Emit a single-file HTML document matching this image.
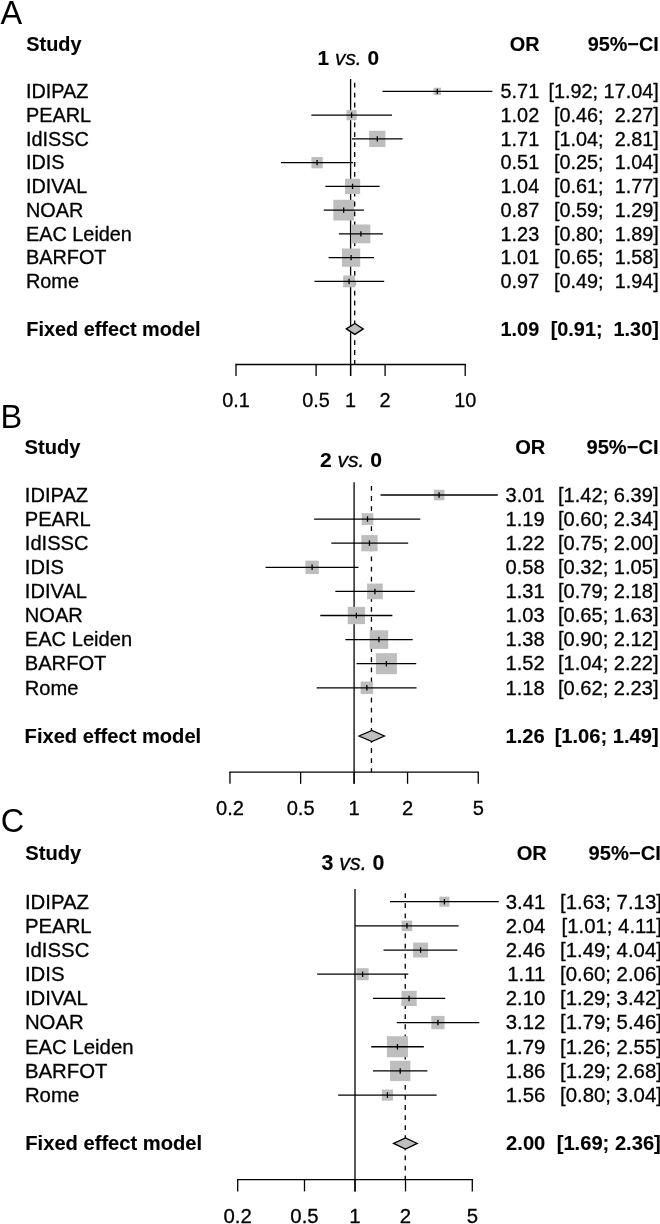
<!DOCTYPE html>
<html lang="en">
<head>
<meta charset="utf-8">
<title>Forest plots</title>
<style>
html,body{margin:0;padding:0;background:#fff;}
body{width:660px;height:1224px;overflow:hidden;}
svg{display:block;will-change:transform;}
text{font-family:"Liberation Sans",sans-serif;fill:#000;white-space:pre;stroke:#000;stroke-width:0.3px;stroke-linejoin:round;}
.b{font-weight:bold;stroke-width:0.12px;}
.pC .b{font-size:0.99em;}
.pl{font-size:32.5px;stroke:none;}
.t{font-size:1.05em;}
.tb{font-weight:bold;stroke-width:0.12px;}
.ti{font-style:italic;}
.k{stroke:#000;stroke-width:1.3;}
line.k{fill:none;}
</style>
</head>
<body>
<svg width="660" height="1224" viewBox="0 0 660 1224">
<rect width="660" height="1224" fill="#fff"/>
<g class="pA" style="font-size:19.85px">
<text class="pl" x="0.6" y="24.0">A</text>
<text class="b" x="26.3" y="50.60">Study</text>
<text class="b" text-anchor="end" x="539.6" y="50.60">OR</text>
<text class="b" text-anchor="end" x="658.8" y="50.60">95%−CI</text>
<text class="t" text-anchor="middle" x="348.3" y="65.0"><tspan class="tb">1</tspan> <tspan class="ti">vs.</tspan> <tspan class="tb">0</tspan></text>
<line class="k" x1="350.6" x2="350.6" y1="78.90" y2="376.00"/>
<line class="k" stroke-dasharray="4.8 5.10" x1="354.70" x2="354.70" y1="82.80" y2="364.50"/>
<text x="26.0" y="98.10">IDIPAZ</text>
<text text-anchor="end" x="539.2" y="98.10">5.71</text>
<text text-anchor="end" x="658.8" y="98.10">[1.92; 17.04]</text>
<rect fill="#bebebe" x="433.60" y="87.69" width="7.42" height="7.42"/>
<line class="k" x1="382.47" x2="492.33" y1="91.40" y2="91.40"/>
<line class="k" x1="437.31" x2="437.31" y1="88.70" y2="94.10"/>
<text x="26.0" y="121.85">PEARL</text>
<text text-anchor="end" x="539.2" y="121.85">1.02</text>
<text text-anchor="end" x="658.8" y="121.85">[0.46;  2.27]</text>
<rect fill="#bebebe" x="346.51" y="110.08" width="10.14" height="10.14"/>
<line class="k" x1="311.35" x2="392.00" y1="115.15" y2="115.15"/>
<line class="k" x1="351.59" x2="351.59" y1="112.45" y2="117.85"/>
<text x="26.0" y="145.60">IdISSC</text>
<text text-anchor="end" x="539.2" y="145.60">1.71</text>
<text text-anchor="end" x="658.8" y="145.60">[1.04;  2.81]</text>
<rect fill="#bebebe" x="369.16" y="130.75" width="16.29" height="16.29"/>
<line class="k" x1="351.95" x2="402.62" y1="138.90" y2="138.90"/>
<line class="k" x1="377.30" x2="377.30" y1="136.20" y2="141.60"/>
<text x="26.0" y="169.35">IDIS</text>
<text text-anchor="end" x="539.2" y="169.35">0.51</text>
<text text-anchor="end" x="658.8" y="169.35">[0.25;  1.04]</text>
<rect fill="#bebebe" x="311.41" y="156.97" width="11.36" height="11.36"/>
<line class="k" x1="281.00" x2="353.15" y1="162.65" y2="162.65"/>
<line class="k" x1="317.09" x2="317.09" y1="159.95" y2="165.35"/>
<text x="26.0" y="193.10">IDIVAL</text>
<text text-anchor="end" x="539.2" y="193.10">1.04</text>
<text text-anchor="end" x="658.8" y="193.10">[0.61;  1.77]</text>
<rect fill="#bebebe" x="344.95" y="178.80" width="15.20" height="15.20"/>
<line class="k" x1="325.40" x2="379.62" y1="186.40" y2="186.40"/>
<line class="k" x1="352.55" x2="352.55" y1="183.70" y2="189.10"/>
<text x="26.0" y="216.85">NOAR</text>
<text text-anchor="end" x="539.2" y="216.85">0.87</text>
<text text-anchor="end" x="658.8" y="216.85">[0.59;  1.29]</text>
<rect fill="#bebebe" x="333.32" y="199.80" width="20.70" height="20.70"/>
<line class="k" x1="323.74" x2="363.87" y1="210.15" y2="210.15"/>
<line class="k" x1="343.67" x2="343.67" y1="207.45" y2="212.85"/>
<text x="26.0" y="240.60">EAC Leiden</text>
<text text-anchor="end" x="539.2" y="240.60">1.23</text>
<text text-anchor="end" x="658.8" y="240.60">[0.80;  1.89]</text>
<rect fill="#bebebe" x="351.49" y="224.48" width="18.84" height="18.84"/>
<line class="k" x1="338.89" x2="382.88" y1="233.90" y2="233.90"/>
<line class="k" x1="360.90" x2="360.90" y1="231.20" y2="236.60"/>
<text x="26.0" y="264.35">BARFOT</text>
<text text-anchor="end" x="539.2" y="264.35">1.01</text>
<text text-anchor="end" x="658.8" y="264.35">[0.65;  1.58]</text>
<rect fill="#bebebe" x="341.98" y="248.53" width="18.23" height="18.23"/>
<line class="k" x1="328.56" x2="373.97" y1="257.65" y2="257.65"/>
<line class="k" x1="351.10" x2="351.10" y1="254.95" y2="260.35"/>
<text x="26.0" y="288.10">Rome</text>
<text text-anchor="end" x="539.2" y="288.10">0.97</text>
<text text-anchor="end" x="658.8" y="288.10">[0.49;  1.94]</text>
<rect fill="#bebebe" x="343.20" y="275.52" width="11.77" height="11.77"/>
<line class="k" x1="314.50" x2="384.18" y1="281.40" y2="281.40"/>
<line class="k" x1="349.08" x2="349.08" y1="278.70" y2="284.10"/>
<text class="b" x="26.3" y="335.60">Fixed effect model</text>
<text class="b" text-anchor="end" x="539.2" y="335.60">1.09</text>
<text class="b" text-anchor="end" x="658.8" y="335.60">[0.91;  1.30]</text>
<polygon class="k" fill="#bebebe" stroke-linejoin="miter" points="346.31,328.90 354.89,323.40 363.26,328.90 354.89,334.40"/>
<line class="k" x1="235.35" x2="465.85" y1="364.50" y2="364.50"/>
<line class="k" x1="236.00" x2="236.00" y1="364.50" y2="376.00"/>
<text text-anchor="middle" x="236.00" y="407.00">0.1</text>
<line class="k" x1="316.10" x2="316.10" y1="364.50" y2="376.00"/>
<text text-anchor="middle" x="316.10" y="407.00">0.5</text>
<line class="k" x1="350.60" x2="350.60" y1="364.50" y2="376.00"/>
<text text-anchor="middle" x="350.60" y="407.00">1</text>
<line class="k" x1="385.10" x2="385.10" y1="364.50" y2="376.00"/>
<text text-anchor="middle" x="385.10" y="407.00">2</text>
<line class="k" x1="465.20" x2="465.20" y1="364.50" y2="376.00"/>
<text text-anchor="middle" x="465.20" y="407.00">10</text>
</g>
<g class="pB" style="font-size:20.12px">
<text class="pl" x="0.5" y="427.6">B</text>
<text class="b" x="24.6" y="453.60">Study</text>
<text class="b" text-anchor="end" x="545.4" y="453.60">OR</text>
<text class="b" text-anchor="end" x="658.6" y="453.60">95%−CI</text>
<text class="t" text-anchor="middle" x="351.0" y="466.7"><tspan class="tb">2</tspan> <tspan class="ti">vs.</tspan> <tspan class="tb">0</tspan></text>
<line class="k" x1="354.1" x2="354.1" y1="482.32" y2="783.79"/>
<line class="k" stroke-dasharray="4.8 5.28" x1="371.45" x2="371.45" y1="486.00" y2="772.12"/>
<text x="24.8" y="501.80">IDIPAZ</text>
<text text-anchor="end" x="544.6" y="501.80">3.01</text>
<text text-anchor="end" x="658.6" y="501.80">[1.42; 6.39]</text>
<rect fill="#bebebe" x="433.80" y="489.71" width="10.59" height="10.59"/>
<line class="k" x1="380.55" x2="497.76" y1="495.00" y2="495.00"/>
<line class="k" x1="439.09" x2="439.09" y1="492.26" y2="497.74"/>
<text x="24.8" y="525.90">PEARL</text>
<text text-anchor="end" x="544.6" y="525.90">1.19</text>
<text text-anchor="end" x="658.6" y="525.90">[0.60; 2.34]</text>
<rect fill="#bebebe" x="361.67" y="513.25" width="11.70" height="11.70"/>
<line class="k" x1="314.10" x2="420.27" y1="519.10" y2="519.10"/>
<line class="k" x1="367.52" x2="367.52" y1="516.36" y2="521.84"/>
<text x="24.8" y="550.00">IdISSC</text>
<text text-anchor="end" x="544.6" y="550.00">1.22</text>
<text text-anchor="end" x="658.6" y="550.00">[0.75; 2.00]</text>
<rect fill="#bebebe" x="361.32" y="535.08" width="16.24" height="16.24"/>
<line class="k" x1="331.31" x2="408.16" y1="543.20" y2="543.20"/>
<line class="k" x1="369.44" x2="369.44" y1="540.46" y2="545.94"/>
<text x="24.8" y="574.10">IDIS</text>
<text text-anchor="end" x="544.6" y="574.10">0.58</text>
<text text-anchor="end" x="658.6" y="574.10">[0.32; 1.05]</text>
<rect fill="#bebebe" x="305.38" y="560.60" width="13.40" height="13.40"/>
<line class="k" x1="265.61" x2="358.46" y1="567.30" y2="567.30"/>
<line class="k" x1="312.08" x2="312.08" y1="564.56" y2="570.04"/>
<text x="24.8" y="598.20">IDIVAL</text>
<text text-anchor="end" x="544.6" y="598.20">1.31</text>
<text text-anchor="end" x="658.6" y="598.20">[0.79; 2.18]</text>
<rect fill="#bebebe" x="367.08" y="583.55" width="15.69" height="15.69"/>
<line class="k" x1="335.32" x2="414.81" y1="591.40" y2="591.40"/>
<line class="k" x1="374.93" x2="374.93" y1="588.66" y2="594.14"/>
<text x="24.8" y="622.30">NOAR</text>
<text text-anchor="end" x="544.6" y="622.30">1.03</text>
<text text-anchor="end" x="658.6" y="622.30">[0.65; 1.63]</text>
<rect fill="#bebebe" x="347.72" y="606.84" width="17.32" height="17.32"/>
<line class="k" x1="320.27" x2="392.38" y1="615.50" y2="615.50"/>
<line class="k" x1="356.38" x2="356.38" y1="612.76" y2="618.24"/>
<text x="24.8" y="646.39">EAC Leiden</text>
<text text-anchor="end" x="544.6" y="646.39">1.38</text>
<text text-anchor="end" x="658.6" y="646.39">[0.90; 2.12]</text>
<rect fill="#bebebe" x="369.65" y="630.30" width="18.59" height="18.59"/>
<line class="k" x1="345.37" x2="412.66" y1="639.60" y2="639.60"/>
<line class="k" x1="378.94" x2="378.94" y1="636.86" y2="642.34"/>
<text x="24.8" y="670.49">BARFOT</text>
<text text-anchor="end" x="544.6" y="670.49">1.52</text>
<text text-anchor="end" x="658.6" y="670.49">[1.04; 2.22]</text>
<rect fill="#bebebe" x="375.89" y="653.19" width="21.00" height="21.00"/>
<line class="k" x1="356.53" x2="416.21" y1="663.70" y2="663.70"/>
<line class="k" x1="386.40" x2="386.40" y1="660.96" y2="666.44"/>
<text x="24.8" y="694.59">Rome</text>
<text text-anchor="end" x="544.6" y="694.59">1.18</text>
<text text-anchor="end" x="658.6" y="694.59">[0.62; 2.23]</text>
<rect fill="#bebebe" x="360.64" y="681.57" width="12.44" height="12.44"/>
<line class="k" x1="316.63" x2="416.56" y1="687.79" y2="687.79"/>
<line class="k" x1="366.87" x2="366.87" y1="685.05" y2="690.53"/>
<text class="b" x="24.6" y="742.79">Fixed effect model</text>
<text class="b" text-anchor="end" x="544.6" y="742.79">1.26</text>
<text class="b" text-anchor="end" x="658.6" y="742.79">[1.06; 1.49]</text>
<polygon class="k" fill="#bebebe" stroke-linejoin="miter" points="358.99,735.99 371.93,730.41 384.46,735.99 371.93,741.57"/>
<line class="k" x1="229.31" x2="478.89" y1="772.12" y2="772.12"/>
<line class="k" x1="229.96" x2="229.96" y1="772.12" y2="783.79"/>
<text text-anchor="middle" x="229.96" y="815.24">0.2</text>
<line class="k" x1="300.64" x2="300.64" y1="772.12" y2="783.79"/>
<text text-anchor="middle" x="300.64" y="815.24">0.5</text>
<line class="k" x1="354.10" x2="354.10" y1="772.12" y2="783.79"/>
<text text-anchor="middle" x="354.10" y="815.24">1</text>
<line class="k" x1="407.56" x2="407.56" y1="772.12" y2="783.79"/>
<text text-anchor="middle" x="407.56" y="815.24">2</text>
<line class="k" x1="478.24" x2="478.24" y1="772.12" y2="783.79"/>
<text text-anchor="middle" x="478.24" y="815.24">5</text>
</g>
<g class="pC" style="font-size:20.36px">
<text class="pl" x="0.8" y="831.8">C</text>
<text class="b" x="25.3" y="860.14">Study</text>
<text class="b" text-anchor="end" x="546.9" y="860.14">OR</text>
<text class="b" text-anchor="end" x="660.8" y="860.14">95%−CI</text>
<text class="t" text-anchor="middle" x="353.0" y="870.2"><tspan class="tb">3</tspan> <tspan class="ti">vs.</tspan> <tspan class="tb">0</tspan></text>
<line class="k" x1="355.0" x2="355.0" y1="888.95" y2="1191.40"/>
<line class="k" stroke-dasharray="4.8 5.29" x1="405.25" x2="405.25" y1="893.20" y2="1179.70"/>
<text x="24.9" y="908.50">IDIPAZ</text>
<text text-anchor="end" x="545.3" y="908.50">3.41</text>
<text text-anchor="end" x="661.9" y="908.50">[1.63; 7.13]</text>
<rect fill="#bebebe" x="439.36" y="896.65" width="10.07" height="10.07"/>
<line class="k" x1="390.01" x2="498.75" y1="901.68" y2="901.68"/>
<line class="k" x1="444.40" x2="444.40" y1="898.93" y2="904.43"/>
<text x="24.9" y="932.68">PEARL</text>
<text text-anchor="end" x="545.3" y="932.68">2.04</text>
<text text-anchor="end" x="661.9" y="932.68">[1.01; 4.11]</text>
<rect fill="#bebebe" x="401.66" y="920.56" width="10.59" height="10.59"/>
<line class="k" x1="355.13" x2="458.60" y1="925.86" y2="925.86"/>
<line class="k" x1="406.96" x2="406.96" y1="923.11" y2="928.61"/>
<text x="24.9" y="956.86">IdISSC</text>
<text text-anchor="end" x="545.3" y="956.86">2.46</text>
<text text-anchor="end" x="661.9" y="956.86">[1.49; 4.04]</text>
<rect fill="#bebebe" x="413.15" y="942.59" width="14.89" height="14.89"/>
<line class="k" x1="383.46" x2="457.35" y1="950.03" y2="950.03"/>
<line class="k" x1="420.60" x2="420.60" y1="947.29" y2="952.78"/>
<text x="24.9" y="981.03">IDIS</text>
<text text-anchor="end" x="545.3" y="981.03">1.11</text>
<text text-anchor="end" x="661.9" y="981.03">[0.60; 2.06]</text>
<rect fill="#bebebe" x="356.58" y="968.19" width="12.04" height="12.04"/>
<line class="k" x1="317.17" x2="408.27" y1="974.21" y2="974.21"/>
<line class="k" x1="362.61" x2="362.61" y1="971.46" y2="976.96"/>
<text x="24.9" y="1005.21">IDIVAL</text>
<text text-anchor="end" x="545.3" y="1005.21">2.10</text>
<text text-anchor="end" x="661.9" y="1005.21">[1.29; 3.42]</text>
<rect fill="#bebebe" x="401.45" y="990.77" width="15.24" height="15.24"/>
<line class="k" x1="372.96" x2="445.21" y1="998.39" y2="998.39"/>
<line class="k" x1="409.07" x2="409.07" y1="995.64" y2="1001.14"/>
<text x="24.9" y="1029.39">NOAR</text>
<text text-anchor="end" x="545.3" y="1029.39">3.12</text>
<text text-anchor="end" x="661.9" y="1029.39">[1.79; 5.46]</text>
<rect fill="#bebebe" x="431.26" y="1015.91" width="13.32" height="13.32"/>
<line class="k" x1="396.83" x2="479.30" y1="1022.57" y2="1022.57"/>
<line class="k" x1="437.92" x2="437.92" y1="1019.82" y2="1025.32"/>
<text x="24.9" y="1053.57">EAC Leiden</text>
<text text-anchor="end" x="545.3" y="1053.57">1.79</text>
<text text-anchor="end" x="661.9" y="1053.57">[1.26; 2.55]</text>
<rect fill="#bebebe" x="386.89" y="1036.21" width="21.07" height="21.07"/>
<line class="k" x1="371.24" x2="423.82" y1="1046.74" y2="1046.74"/>
<line class="k" x1="397.43" x2="397.43" y1="1044.00" y2="1049.49"/>
<text x="24.9" y="1077.74">BARFOT</text>
<text text-anchor="end" x="545.3" y="1077.74">1.86</text>
<text text-anchor="end" x="661.9" y="1077.74">[1.29; 2.68]</text>
<rect fill="#bebebe" x="390.07" y="1060.76" width="20.32" height="20.32"/>
<line class="k" x1="372.96" x2="427.44" y1="1070.92" y2="1070.92"/>
<line class="k" x1="400.22" x2="400.22" y1="1068.17" y2="1073.67"/>
<text x="24.9" y="1101.92">Rome</text>
<text text-anchor="end" x="545.3" y="1101.92">1.56</text>
<text text-anchor="end" x="661.9" y="1101.92">[0.80; 3.04]</text>
<rect fill="#bebebe" x="381.84" y="1089.54" width="11.13" height="11.13"/>
<line class="k" x1="338.14" x2="436.63" y1="1095.10" y2="1095.10"/>
<line class="k" x1="387.41" x2="387.41" y1="1092.35" y2="1097.85"/>
<text class="b" x="25.3" y="1150.28">Fixed effect model</text>
<text class="b" text-anchor="end" x="545.3" y="1150.28">2.00</text>
<text class="b" text-anchor="end" x="660.8" y="1150.28">[1.69; 2.36]</text>
<polygon class="k" fill="#bebebe" stroke-linejoin="miter" points="393.64,1143.45 405.51,1137.86 417.17,1143.45 405.51,1149.05"/>
<line class="k" x1="237.06" x2="472.94" y1="1179.70" y2="1179.70"/>
<line class="k" x1="237.71" x2="237.71" y1="1179.70" y2="1191.40"/>
<text text-anchor="middle" x="237.71" y="1222.96">0.2</text>
<line class="k" x1="304.49" x2="304.49" y1="1179.70" y2="1191.40"/>
<text text-anchor="middle" x="304.49" y="1222.96">0.5</text>
<line class="k" x1="355.00" x2="355.00" y1="1179.70" y2="1191.40"/>
<text text-anchor="middle" x="355.00" y="1222.96">1</text>
<line class="k" x1="405.51" x2="405.51" y1="1179.70" y2="1191.40"/>
<text text-anchor="middle" x="405.51" y="1222.96">2</text>
<line class="k" x1="472.29" x2="472.29" y1="1179.70" y2="1191.40"/>
<text text-anchor="middle" x="472.29" y="1222.96">5</text>
</g>
</svg>
</body>
</html>
